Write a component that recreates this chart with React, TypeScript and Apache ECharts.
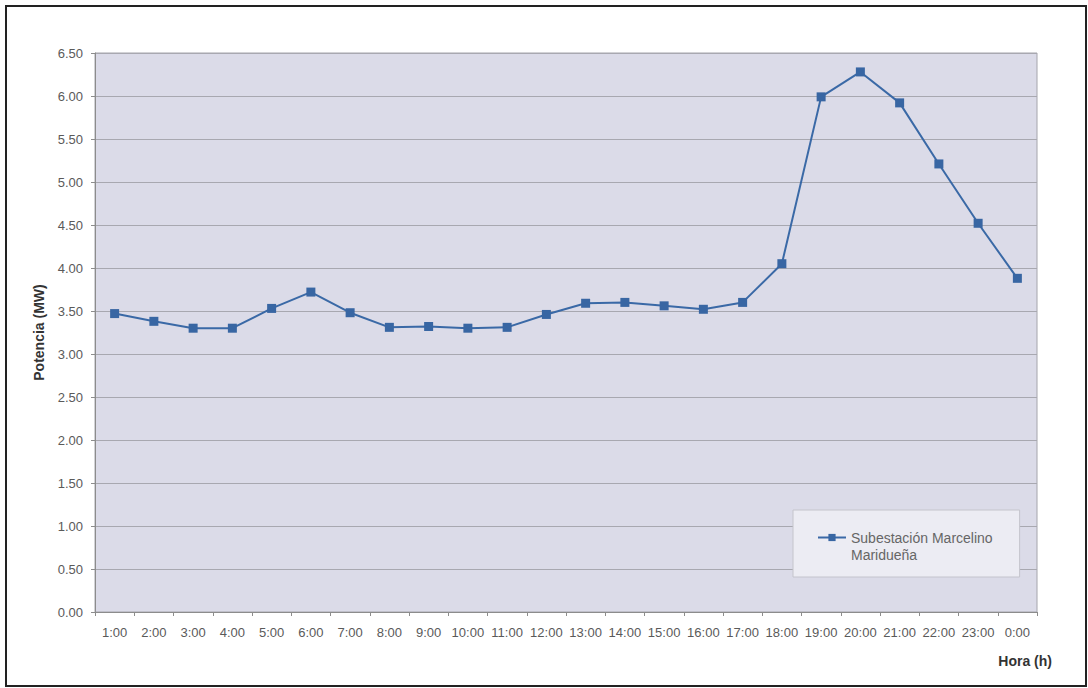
import React, { useEffect, useRef } from "react";
import * as echarts from "echarts";

const hours = [
  "1:00", "2:00", "3:00", "4:00", "5:00", "6:00", "7:00", "8:00", "9:00", "10:00", "11:00", "12:00",
  "13:00", "14:00", "15:00", "16:00", "17:00", "18:00", "19:00", "20:00", "21:00", "22:00", "23:00", "0:00",
];
const potencia = [
  3.47, 3.38, 3.30, 3.30, 3.53, 3.72, 3.48, 3.31, 3.32, 3.30, 3.31, 3.46,
  3.59, 3.60, 3.56, 3.52, 3.60, 4.05, 5.99, 6.28, 5.92, 5.21, 4.52, 3.88,
];
const seriesName = "Subestación Marcelino\nMaridueña";
const yAxisTitle = "Potencia (MW)";
const xAxisTitle = "Hora (h)";

export default function App() {
  const ref = useRef<HTMLDivElement>(null);
  useEffect(() => {
    if (!ref.current) return;
    const chart = echarts.init(ref.current, null, { renderer: "svg" });
    const font = "'Liberation Sans', Arial, sans-serif";
    chart.setOption({
      animation: false,
      backgroundColor: "#ffffff",
      textStyle: { fontFamily: font },
      grid: {
        left: 95,
        top: 53,
        right: 51,
        bottom: 76,
        show: true,
        backgroundColor: "#dbdbe8",
        borderColor: "#a4a4ac",
        borderWidth: 1,
      },
      legend: {
        show: true,
        left: 793,
        top: 510,
        orient: "vertical",
        backgroundColor: "#ececf3",
        borderColor: "#c4c4cc",
        borderWidth: 1,
        borderRadius: 0,
        padding: [2, 27, 14, 24],
        itemWidth: 28,
        itemHeight: 9,
        itemGap: 5,
        formatter: (name: string) => "\n" + name,
        textStyle: {
          fontFamily: font,
          fontSize: 14,
          color: "#666666",
          lineHeight: 17,
        },
        data: [seriesName],
      },
      xAxis: {
        type: "category",
        data: hours,
        boundaryGap: true,
        axisLine: { show: true, lineStyle: { color: "#8c8c8c" } },
        axisTick: { show: true, length: 4, lineStyle: { color: "#8c8c8c" } },
        axisLabel: { color: "#5a5a5a", fontSize: 13, margin: 14, interval: 0, fontFamily: font },
        splitLine: { show: false },
      },
      yAxis: {
        type: "value",
        min: 0,
        max: 6.5,
        interval: 0.5,
        name: yAxisTitle,
        nameLocation: "middle",
        nameGap: 49,
        nameRotate: 90,
        nameTextStyle: { color: "#333333", fontSize: 14, fontWeight: "bold", fontFamily: font },
        axisLine: { show: true, lineStyle: { color: "#8c8c8c" } },
        axisTick: { show: true, length: 4, lineStyle: { color: "#8c8c8c" } },
        axisLabel: {
          color: "#5a5a5a",
          fontSize: 13,
          margin: 12,
          fontFamily: font,
          formatter: (v: number) => v.toFixed(2),
        },
        splitLine: { show: true, lineStyle: { color: "#a8a8b0", width: 1 } },
      },
      series: [
        {
          name: seriesName,
          type: "line",
          data: potencia,
          symbol: "rect",
          symbolSize: 9,
          itemStyle: { color: "#3866a3" },
          lineStyle: { color: "#3a69a6", width: 2 },
        },
      ],
      graphic: [
        {
          type: "text",
          right: 36,
          top: 654,
          style: {
            text: xAxisTitle,
            font: `bold 14px ${font}`,
            fill: "#333333",
          },
        },
        {
          type: "rect",
          shape: { x: 6, y: 6, width: 1080, height: 680 },
          style: { fill: "none", stroke: "#222222", lineWidth: 2 },
          z: 100,
        },
      ],
    });
    return () => chart.dispose();
  }, []);
  return (
    <div
      ref={ref}
      style={{ position: "absolute", left: 0, top: 0, width: 1088, height: 688 }}
    />
  );
}
